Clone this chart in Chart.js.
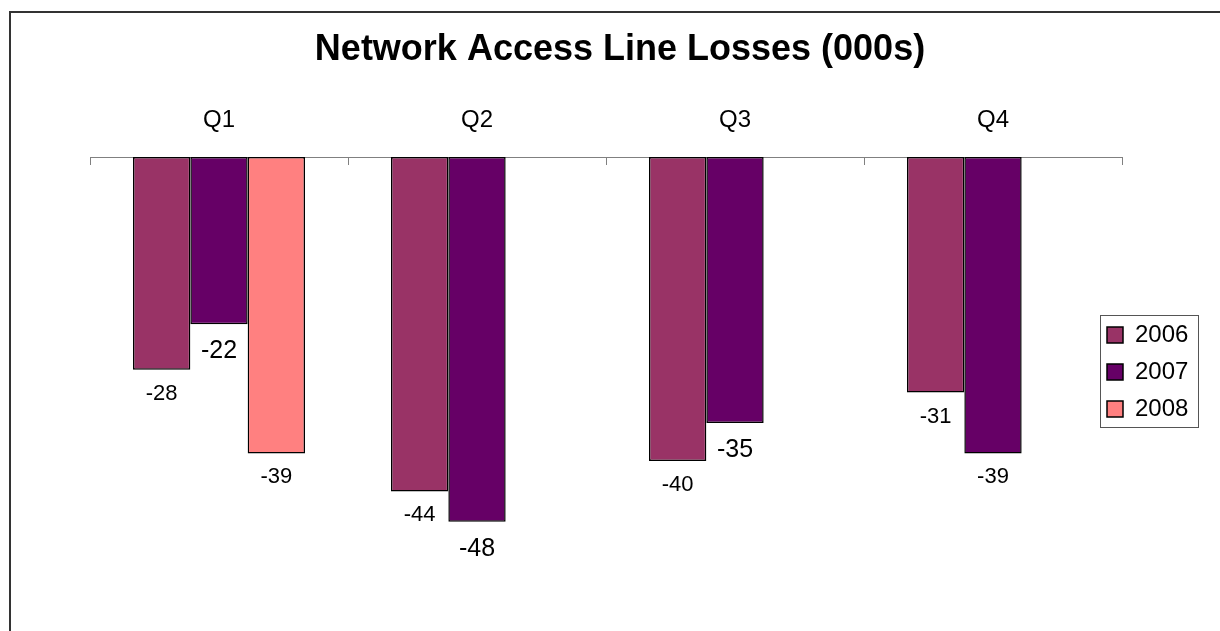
<!DOCTYPE html>
<html>
<head>
<meta charset="utf-8">
<script src="https://cdn.jsdelivr.net/npm/chart.js@4/dist/chart.umd.min.js"></script>
<style>
  html, body { margin: 0; padding: 0; background: #fff; }
  canvas { display: block; }
</style>
</head>
<body>
<canvas id="chart" width="1220" height="631"></canvas>
<script>
const quarters = ['Q1', 'Q2', 'Q3', 'Q4']
const seriesNames = ['2006', '2007', '2008']
const losses2006 = [-28, -44, -40, -31]
const losses2007 = [-22, -48, -35, -39]
const losses2008 = [-39, null, null, null]

const FONT = "'Liberation Sans', Arial, sans-serif"

// Outer frame, only its top and left edges fall inside the picture
const framePlugin = {
  id: 'frame',
  beforeDraw(chart) {
    const { ctx, width, height } = chart
    ctx.save()
    ctx.fillStyle = '#fff'
    ctx.fillRect(0, 0, width, height)
    ctx.strokeStyle = '#333'
    ctx.lineWidth = 2
    ctx.beginPath()
    ctx.moveTo(10, height)
    ctx.lineTo(10, 12)
    ctx.lineTo(width, 12)
    ctx.stroke()
    ctx.restore()
  }
}

// Legend sits a little over the plot's right edge, with a box round it
const legendBoxPlugin = {
  id: 'legendBox',
  afterLayout(chart) {
    const legend = chart.legend
    legend.left -= 28
    legend.right -= 28
    legend.top -= 13
    legend.bottom -= 13
  },
  afterDraw(chart) {
    const boxes = chart.legend.legendHitBoxes
    if (!boxes || !boxes.length) return
    const first = boxes[0]
    const last = boxes[boxes.length - 1]
    const x = Math.round(first.left - 7) + 0.5
    const y = Math.round(first.top - 8) + 0.5
    const bottom = Math.round(last.top + last.height + 6) + 0.5
    const { ctx } = chart
    ctx.save()
    ctx.strokeStyle = '#555'
    ctx.lineWidth = 1
    ctx.strokeRect(x, y, 98, bottom - y)
    ctx.restore()
  }
}

// Value labels under each bar
const valueLabelsPlugin = {
  id: 'valueLabels',
  afterDatasetsDraw(chart, args, opts) {
    const { ctx } = chart
    ctx.save()
    ctx.fillStyle = '#000'
    ctx.textAlign = 'center'
    ctx.textBaseline = 'middle'
    chart.data.datasets.forEach((ds, di) => {
      chart.getDatasetMeta(di).data.forEach((bar, i) => {
        const v = ds.data[i]
        if (v === null || v === undefined) return
        const big = opts.large[di].includes(i)
        ctx.font = (big ? 25 : 22) + 'px ' + FONT
        ctx.fillText(String(v), bar.x, bar.y + (big ? 27 : 24))
      })
    })
    ctx.restore()
  }
}

const barStyle = {
  borderColor: '#000',
  borderWidth: 1.5,
  borderSkipped: false,
  categoryPercentage: 3 / 4.5,
  barPercentage: 1
}

new Chart(document.getElementById('chart').getContext('2d'), {
  type: 'bar',
  data: {
    labels: quarters,
    datasets: [
      { label: seriesNames[0], data: losses2006, backgroundColor: '#993366', ...barStyle },
      { label: seriesNames[1], data: losses2007, backgroundColor: '#660066', ...barStyle },
      { label: seriesNames[2], data: losses2008, backgroundColor: '#FF8080', ...barStyle }
    ]
  },
  options: {
    responsive: false,
    animation: false,
    layout: { padding: { left: 20, right: 0, top: 0, bottom: 18 } },
    plugins: {
      title: {
        display: true,
        text: 'Network Access Line Losses (000s)',
        color: '#000',
        font: { family: FONT, size: 36, weight: 'bold' },
        padding: { top: 28.4, bottom: 3.4 }
      },
      legend: {
        position: 'right',
        fullSize: false,
        maxWidth: 98,
        labels: {
          boxWidth: 16,
          boxHeight: 16,
          padding: 13,
          color: '#000',
          font: { family: FONT, size: 24 }
        }
      },
      tooltip: { enabled: false },
      valueLabels: { large: [[], [0, 1, 2], []] }
    },
    scales: {
      x: {
        position: 'top',
        grid: { drawOnChartArea: false, tickLength: -8, color: '#808080' },
        border: { color: '#808080' },
        ticks: { color: '#000', padding: 30.6, font: { family: FONT, size: 24 } }
      },
      y: {
        min: -60,
        max: 0,
        ticks: { display: false },
        grid: { display: false },
        border: { display: false },
        afterFit(scale) { scale.width = 70 }
      }
    }
  },
  plugins: [framePlugin, legendBoxPlugin, valueLabelsPlugin]
})
</script>
</body>
</html>
